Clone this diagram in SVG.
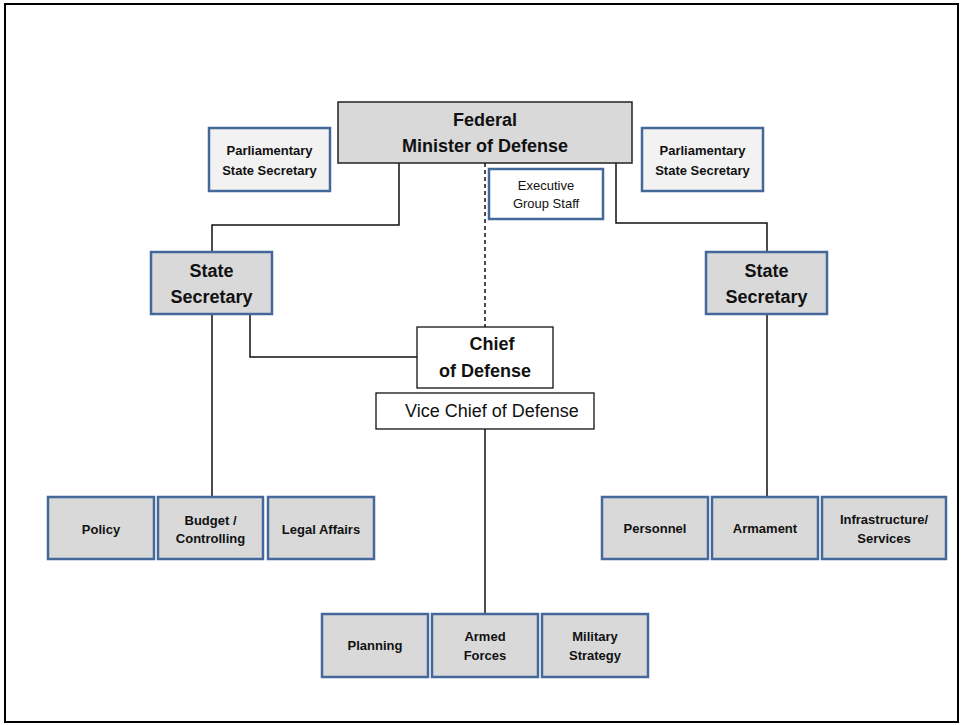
<svg xmlns="http://www.w3.org/2000/svg" width="962" height="725" viewBox="0 0 962 725">
<style>
text{font-family:"Liberation Sans",Arial,sans-serif;fill:#111;text-anchor:middle}
.b{font-weight:bold}
.blue{stroke:#44689a;stroke-width:2.5}
.g{fill:#d9d9d9}
.lg{fill:#f2f2f2}
.w{fill:#fff}
.blk{fill:#fff;stroke:#111;stroke-width:1.3}
.conn{fill:none;stroke:#111;stroke-width:1.5}
.t13{font-size:13px}
.t18{font-size:18px}
</style>
<rect x="5" y="4" width="953" height="718" fill="#fff" stroke="#000" stroke-width="2"/>
<g id="connectors">
<path class="conn" d="M399 163V225H212V252"/>
<path class="conn" d="M616 163V223H767V252"/>
<path class="conn" d="M485 163V327" stroke-dasharray="4,3"/>
<path class="conn" d="M250 314V357H417"/>
<path class="conn" d="M212 314V497"/>
<path class="conn" d="M767 314V497"/>
<path class="conn" d="M485 429V614"/>
</g>
<g id="minister">
<rect x="338" y="102" width="294" height="61" fill="#d9d9d9" stroke="#222" stroke-width="1.5"/>
<text class="b t18" x="485" y="126">Federal</text>
<text class="b t18" x="485" y="152">Minister of Defense</text>
</g>
<g id="parl-left">
<rect class="lg blue" x="209" y="128" width="121" height="63"/>
<text class="b t13" x="269.5" y="155">Parliamentary</text>
<text class="b t13" x="269.5" y="175">State Secretary</text>
</g>
<g id="parl-right">
<rect class="lg blue" x="642" y="128" width="121" height="63"/>
<text class="b t13" x="702.5" y="155">Parliamentary</text>
<text class="b t13" x="702.5" y="175">State Secretary</text>
</g>
<g id="exec-staff">
<rect class="w blue" x="489" y="169" width="114" height="50"/>
<text class="t13" x="546" y="190">Executive</text>
<text class="t13" x="546" y="208">Group Staff</text>
</g>
<g id="state-sec-left">
<rect class="g blue" x="151" y="252" width="121" height="62"/>
<text class="b t18" x="211.5" y="277">State</text>
<text class="b t18" x="211.5" y="303">Secretary</text>
</g>
<g id="state-sec-right">
<rect class="g blue" x="706" y="252" width="121" height="62"/>
<text class="b t18" x="766.5" y="277">State</text>
<text class="b t18" x="766.5" y="303">Secretary</text>
</g>
<g id="chief">
<rect class="blk" x="417" y="327" width="136" height="61"/>
<text class="b t18" x="492" y="350">Chief</text>
<text class="b t18" x="485" y="377">of Defense</text>
</g>
<g id="vice-chief">
<rect class="blk" x="376" y="393" width="218" height="36"/>
<text class="t18" x="492" y="417">Vice Chief of Defense</text>
</g>
<g id="policy">
<rect class="g blue" x="48" y="497" width="106" height="62"/>
<text class="b t13" x="101" y="534">Policy</text>
</g>
<g id="budget">
<rect class="g blue" x="158" y="497" width="105" height="62"/>
<text class="b t13" x="210.5" y="525">Budget /</text>
<text class="b t13" x="210.5" y="543">Controlling</text>
</g>
<g id="legal">
<rect class="g blue" x="268" y="497" width="106" height="62"/>
<text class="b t13" x="321" y="534">Legal Affairs</text>
</g>
<g id="personnel">
<rect class="g blue" x="602" y="497" width="106" height="62"/>
<text class="b t13" x="655" y="533">Personnel</text>
</g>
<g id="armament">
<rect class="g blue" x="712" y="497" width="106" height="62"/>
<text class="b t13" x="765" y="533">Armament</text>
</g>
<g id="infrastructure">
<rect class="g blue" x="822" y="497" width="124" height="62"/>
<text class="b t13" x="884" y="524">Infrastructure/</text>
<text class="b t13" x="884" y="543">Services</text>
</g>
<g id="planning">
<rect class="g blue" x="322" y="614" width="106" height="63"/>
<text class="b t13" x="375" y="650">Planning</text>
</g>
<g id="armed-forces">
<rect class="g blue" x="432" y="614" width="106" height="63"/>
<text class="b t13" x="485" y="641">Armed</text>
<text class="b t13" x="485" y="660">Forces</text>
</g>
<g id="military-strategy">
<rect class="g blue" x="542" y="614" width="106" height="63"/>
<text class="b t13" x="595" y="641">Military</text>
<text class="b t13" x="595" y="660">Strategy</text>
</g>
</svg>
